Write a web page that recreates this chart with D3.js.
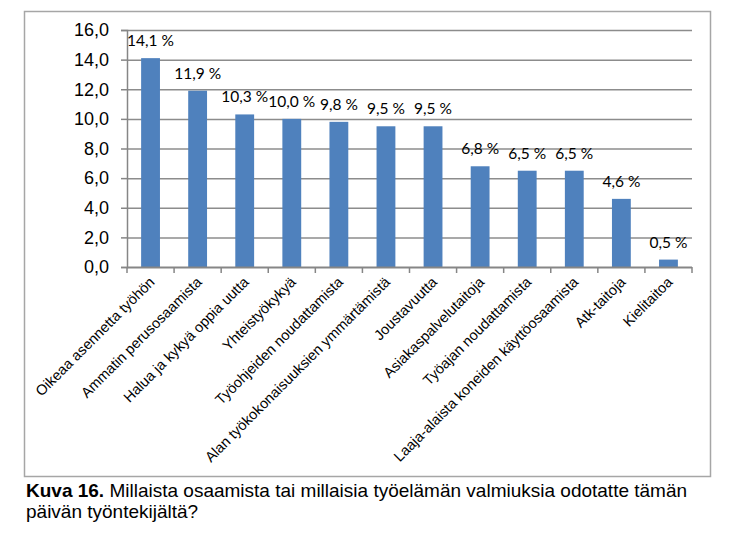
<!DOCTYPE html>
<html><head><meta charset="utf-8">
<script src="https://cdn.jsdelivr.net/npm/d3@7"></script>
<style>
body{margin:0;background:#fff;}
svg{display:block;}
</style></head>
<body>
<svg id="chart" width="733" height="537"></svg>
<script>
const categories = ["Oikeaa asennetta työhön","Ammatin perusosaamista","Halua ja kykyä oppia uutta","Yhteistyökykyä","Työohjeiden noudattamista","Alan työkokonaisuuksien ymmärtämistä","Joustavuutta","Asiakaspalvelutaitoja","Työajan noudattamista","Laaja-alaista koneiden käyttöosaamista","Atk-taitoja","Kielitaitoa"];
const values = [14.1,11.9,10.3,10.0,9.8,9.5,9.5,6.8,6.5,6.5,4.6,0.5];
const yTicks = [0,2,4,6,8,10,12,14,16];
const captionBold = "Kuva 16.";
const captionLine1 = " Millaista osaamista tai millaisia työelämän valmiuksia odotatte tämän";
const captionLine2 = "päivän työntekijältä?";

const svg = d3.select("#chart");
const pLeft = 127, pRight = 692, pTop = 30, pBottom = 267;
const fmt = v => v.toFixed(1).replace(".", ",");

// outer frame
svg.append("rect").attr("x",24.5).attr("y",11.5).attr("width",686).attr("height",465)
  .attr("fill","none").attr("stroke","#a6a6a6").attr("stroke-width",1.5);

const x = d3.scaleBand().domain(categories).range([pLeft,pRight]).paddingInner(0.6).paddingOuter(0.3);
const xb = d3.scaleBand().domain(categories).range([pLeft,pRight]);
const y = d3.scaleLinear().domain([0,16]).range([pBottom,pTop]);

// gridlines
svg.append("g").selectAll("line").data(yTicks.filter(t=>t>0)).join("line")
  .attr("x1",pLeft).attr("x2",pRight).attr("y1",d=>y(d)+0.5).attr("y2",d=>y(d)+0.5)
  .attr("stroke","#8c8c8c").attr("stroke-width",1.5);

// y axis
const yAxis = svg.append("g").attr("transform",`translate(${pLeft},0)`)
  .call(d3.axisLeft(y).tickValues(yTicks).tickFormat(fmt).tickSize(6).tickPadding(12));
yAxis.select(".domain").attr("stroke","#868686").attr("stroke-width",1.5);
yAxis.selectAll(".tick line").attr("stroke","#868686").attr("stroke-width",1.5);
yAxis.selectAll("text").attr("font-family","'Liberation Sans', Arial, sans-serif").attr("font-size",18).attr("fill","#000");

// bars
svg.append("g").selectAll("rect").data(values).join("rect")
  .attr("x",(d,i)=>x(categories[i])).attr("width",x.bandwidth())
  .attr("y",d=>y(d)).attr("height",d=>y(0)-y(d))
  .attr("fill","#4f81bd");

// x axis
const xAxis = svg.append("g").attr("transform",`translate(0,${pBottom})`);
xAxis.append("line").attr("x1",pLeft).attr("x2",pRight).attr("y1",0.5).attr("y2",0.5)
  .attr("stroke","#868686").attr("stroke-width",2);
const bounds = categories.map(c=>xb(c)).concat([pRight]);
xAxis.selectAll("line.tk").data(bounds).join("line").attr("class","tk")
  .attr("x1",d=>d).attr("x2",d=>d).attr("y1",0).attr("y2",6)
  .attr("stroke","#868686").attr("stroke-width",1.5);
xAxis.selectAll("text").data(categories).join("text")
  .attr("transform",d=>`translate(${xb(d)+xb.bandwidth()/2+5},${16}) rotate(-45)`)
  .attr("text-anchor","end")
  .attr("font-family","'Liberation Sans', Arial, sans-serif").attr("font-size",14.5).attr("fill","#000")
  .text(d=>d);

// data labels
svg.append("g").selectAll("text").data(values).join("text")
  .attr("x",(d,i)=>x(categories[i])+x.bandwidth()/2)
  .attr("y",d=>y(d)-12)
  .attr("text-anchor","middle")
  .attr("font-family","Lato, 'Open Sans', sans-serif").attr("font-size",15.5).attr("fill","#000")
  .text(d=>fmt(d)+" %");

// caption
const cap = svg.append("text").attr("x",26).attr("y",497)
  .attr("font-family","'Liberation Sans', Arial, sans-serif").attr("font-size",19).attr("fill","#000");
cap.append("tspan").attr("font-weight","bold").text(captionBold);
cap.append("tspan").text(captionLine1);
svg.append("text").attr("x",26).attr("y",518)
  .attr("font-family","'Liberation Sans', Arial, sans-serif").attr("font-size",19).attr("fill","#000")
  .text(captionLine2);
</script>
</body></html>
